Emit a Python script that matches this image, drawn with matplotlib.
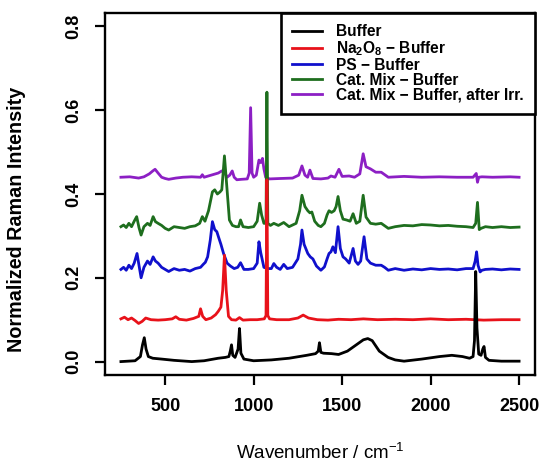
import matplotlib
matplotlib.use("Agg")
import matplotlib.pyplot as plt

plt.rcParams['font.family'] = ['Liberation Sans', 'DejaVu Sans']
plt.rcParams['mathtext.default'] = 'regular'

# ---------------- data ----------------
buffer_wn = [250, 330, 360, 372, 382, 392, 405, 430, 480, 550, 650, 720, 800, 840, 860, 868, 875, 882, 895, 912,
             920, 928, 945, 1000, 1100, 1200, 1300, 1350, 1365, 1372, 1380, 1395, 1440, 1480, 1530, 1580, 1620,
             1645, 1670, 1710, 1760, 1800, 1850, 1950, 2050, 2120, 2180, 2220, 2240, 2248, 2255, 2262, 2272,
             2285, 2295, 2302, 2310, 2330, 2400, 2500]
buffer_y = [0.0, 0.002, 0.012, 0.04, 0.057, 0.03, 0.012, 0.008, 0.006, 0.003, 0.0, 0.002, 0.008, 0.01, 0.012,
            0.025, 0.04, 0.015, 0.01, 0.03, 0.079, 0.02, 0.006, 0.002, 0.004, 0.008, 0.015, 0.019, 0.025, 0.045,
            0.022, 0.02, 0.019, 0.017, 0.025, 0.04, 0.052, 0.055, 0.05, 0.025, 0.01, 0.004, 0.001, 0.006, 0.012,
            0.015, 0.012, 0.008, 0.012, 0.05, 0.215, 0.08, 0.018, 0.015, 0.03, 0.036, 0.01, 0.003, 0.001, 0.001]

na_wn = [250, 270, 290, 310, 330, 350, 370, 390, 420, 460, 500, 540, 560, 580, 620, 660, 690, 700, 712, 730,
         760, 785, 800, 815, 825, 835, 845, 858, 875, 900, 920, 940, 980, 1020, 1060, 1070, 1075, 1080, 1090,
         1130, 1200, 1250, 1280, 1310, 1360, 1420, 1480, 1550, 1620, 1700, 1800, 1900, 2000, 2100, 2200,
         2300, 2400, 2500]
na_y = [0.102, 0.106, 0.1, 0.104, 0.098, 0.091, 0.096, 0.104, 0.1, 0.099, 0.1, 0.102, 0.107, 0.101, 0.099,
        0.103, 0.108, 0.126, 0.108, 0.1, 0.104, 0.112, 0.12, 0.13, 0.17, 0.254, 0.17, 0.108, 0.1, 0.099, 0.105,
        0.099, 0.1, 0.1, 0.102, 0.11, 0.434, 0.11, 0.102, 0.1, 0.1, 0.104, 0.111, 0.104, 0.1, 0.099, 0.101,
        0.1, 0.102, 0.1, 0.101, 0.1, 0.102, 0.1, 0.101, 0.099, 0.1, 0.1]

ps_wn = [250, 265, 280, 295, 310, 325, 341, 352, 364, 380, 400, 415, 432, 445, 460, 480, 500, 520, 550, 580,
         610, 640, 670, 700, 715, 727, 740, 755, 767, 780, 792, 801, 815, 830, 850, 869, 890, 910, 926, 945,
         970, 1000, 1020, 1030, 1040, 1058, 1080, 1100, 1114, 1130, 1150, 1170, 1190, 1220, 1250, 1265, 1273,
         1285, 1306, 1320, 1335, 1355, 1380, 1400, 1415, 1426, 1437, 1448, 1462, 1477, 1490, 1505, 1520, 1540,
         1562, 1575, 1590, 1605, 1624, 1640, 1660, 1690, 1721, 1740, 1761, 1800, 1850, 1900, 1950, 2000, 2050,
         2100, 2150, 2200, 2240, 2252, 2260, 2268, 2280, 2290, 2310, 2350, 2400, 2450, 2500]
ps_y = [0.22, 0.225, 0.218, 0.23, 0.222, 0.235, 0.258, 0.23, 0.2, 0.225, 0.24, 0.232, 0.25, 0.24, 0.235,
        0.225, 0.22, 0.215, 0.222, 0.218, 0.22, 0.216, 0.222, 0.225, 0.232, 0.237, 0.25, 0.29, 0.334, 0.315,
        0.31, 0.298, 0.28, 0.258, 0.235, 0.228, 0.222, 0.225, 0.236, 0.22, 0.22, 0.222, 0.235, 0.286, 0.26,
        0.225, 0.222, 0.222, 0.234, 0.225, 0.22, 0.232, 0.222, 0.225, 0.245, 0.28, 0.314, 0.28, 0.258, 0.25,
        0.245, 0.228, 0.218, 0.226, 0.245, 0.258, 0.262, 0.274, 0.26, 0.322, 0.27, 0.25, 0.245, 0.235, 0.27,
        0.24, 0.232, 0.24, 0.298, 0.245, 0.235, 0.23, 0.23, 0.225, 0.218, 0.222, 0.218, 0.221, 0.219, 0.222,
        0.22, 0.221, 0.219, 0.222, 0.222, 0.24, 0.262, 0.23, 0.214, 0.218, 0.22, 0.221, 0.219, 0.221, 0.22]

cat_wn = [250, 265, 280, 295, 310, 325, 339, 352, 364, 380, 400, 415, 432, 445, 460, 480, 500, 520, 550, 580,
          610, 640, 670, 695, 710, 725, 745, 767, 780, 795, 810, 820, 835, 848, 863, 880, 900, 915, 926, 940,
          970, 1000, 1020, 1034, 1045, 1058, 1070, 1075, 1080, 1095, 1114, 1140, 1170, 1200, 1240, 1260, 1273,
          1290, 1306, 1318, 1329, 1345, 1365, 1380, 1400, 1415, 1426, 1440, 1455, 1466, 1477, 1490, 1505, 1525,
          1545, 1562, 1580, 1600, 1619, 1635, 1660, 1690, 1721, 1761, 1800, 1850, 1900, 1950, 2000, 2050, 2100,
          2150, 2200, 2240, 2255, 2265, 2275, 2285, 2310, 2350, 2400, 2450, 2500]
cat_y = [0.322, 0.326, 0.32, 0.33, 0.322, 0.335, 0.346, 0.32, 0.302, 0.322, 0.33, 0.325, 0.346, 0.334, 0.33,
         0.325, 0.318, 0.314, 0.322, 0.32, 0.318, 0.322, 0.324, 0.33, 0.346, 0.335, 0.36, 0.405, 0.41, 0.40,
         0.405, 0.41, 0.491, 0.42, 0.338, 0.325, 0.322, 0.322, 0.338, 0.322, 0.32, 0.322, 0.335, 0.378, 0.35,
         0.33, 0.33, 0.643, 0.33, 0.325, 0.33, 0.325, 0.332, 0.322, 0.33, 0.36, 0.397, 0.37, 0.36, 0.355,
         0.357, 0.335, 0.325, 0.322, 0.33, 0.35, 0.36, 0.356, 0.36, 0.37, 0.394, 0.36, 0.34, 0.338, 0.335,
         0.353, 0.33, 0.335, 0.397, 0.345, 0.33, 0.328, 0.33, 0.318, 0.322, 0.325, 0.324, 0.327, 0.326, 0.324,
         0.325, 0.323, 0.322, 0.32, 0.33, 0.38, 0.315, 0.318, 0.322, 0.32, 0.322, 0.32, 0.321]

irr_wn = [250, 300, 350, 380, 410, 430, 443, 460, 480, 500, 520, 560, 600, 650, 700, 710, 720, 760, 800, 820,
          835, 850, 865, 879, 890, 905, 930, 964, 975, 983, 991, 1000, 1015, 1030, 1040, 1050, 1058, 1068, 1090,
          1150, 1220, 1255, 1273, 1290, 1305, 1318, 1335, 1380, 1420, 1437, 1460, 1482, 1500, 1540, 1570, 1600,
          1619, 1635, 1660, 1690, 1721, 1761, 1850, 1950, 2050, 2150, 2240, 2258, 2265, 2272, 2290, 2350, 2450,
          2500]
irr_y = [0.44, 0.441, 0.438, 0.441, 0.448, 0.455, 0.459, 0.45, 0.44, 0.437, 0.435, 0.438, 0.44, 0.441, 0.44,
         0.446, 0.44, 0.445, 0.45, 0.455, 0.452, 0.44, 0.445, 0.455, 0.44, 0.434, 0.435, 0.436, 0.45, 0.606,
         0.45, 0.44, 0.445, 0.481, 0.475, 0.485, 0.46, 0.44, 0.436, 0.437, 0.438, 0.445, 0.467, 0.445, 0.44,
         0.457, 0.437, 0.436, 0.438, 0.443, 0.44, 0.459, 0.442, 0.443, 0.44, 0.448, 0.496, 0.465, 0.46, 0.452,
         0.452, 0.44, 0.442, 0.44, 0.441, 0.44, 0.44, 0.449, 0.428, 0.44, 0.441, 0.44, 0.441, 0.44]

labels = ['Buffer', 'Na$_2$O$_8$ \u2212 Buffer', 'PS \u2212 Buffer', 'Cat. Mix \u2212 Buffer',
          'Cat. Mix \u2212 Buffer, after Irr.']
x_ticks = [500, 1000, 1500, 2000, 2500]
y_ticks = [0.0, 0.2, 0.4, 0.6, 0.8]

# ---------------- plot ----------------
W, H = 541, 462
fig = plt.figure(figsize=(W / 100, H / 100), dpi=100)
ax = fig.add_axes([105 / W, (H - 375) / H, 430 / W, 362 / H])

colors = ['#000000', '#e8121a', '#1010cc', '#1e6e1e', '#8c1fc4']
series = [(buffer_wn, buffer_y), (na_wn, na_y), (ps_wn, ps_y), (cat_wn, cat_y), (irr_wn, irr_y)]
lines = []
for i, ((xw, yv), c, lab) in enumerate(zip(series, colors, labels)):
    ln, = ax.plot(xw, yv, color=c, lw=2.0, label=lab, zorder=10 - i, solid_joinstyle='round')
    lines.append(ln)

ax.set_xlim(160, 2590)
ax.set_ylim(-0.032, 0.832)
ax.set_xticks(x_ticks)
ax.set_xticklabels([str(v) for v in x_ticks])
ax.set_yticks(y_ticks)
ax.set_yticklabels(['%.1f' % v for v in y_ticks], rotation=90, va='center')
for s in ax.spines.values():
    s.set_linewidth(1.7)
ax.tick_params(direction='out', length=7.5, width=1.6, labelsize=13, pad=9)
for t in ax.get_xticklabels() + ax.get_yticklabels():
    t.set_fontweight('bold')

ax.set_xlabel('Wavenumber / cm$^{\u22121}$', fontsize=13.5, labelpad=20)
ax.set_ylabel('Normalized Raman Intensity', fontsize=14.2, fontweight='bold')
ax.yaxis.set_label_coords(-79 / 430, 0.43)

leg = ax.legend(handles=lines, loc='upper right', bbox_to_anchor=(1.0, 1.0), borderaxespad=0,
                fancybox=False, framealpha=1, edgecolor='black', prop={'weight': 'bold', 'size': 11.2},
                handlelength=1.95, handletextpad=0.9, labelspacing=0.0, borderpad=0.72)
leg.get_frame().set_linewidth(1.9)
leg.set_zorder(20)

fig.savefig('out.png', dpi=100)
